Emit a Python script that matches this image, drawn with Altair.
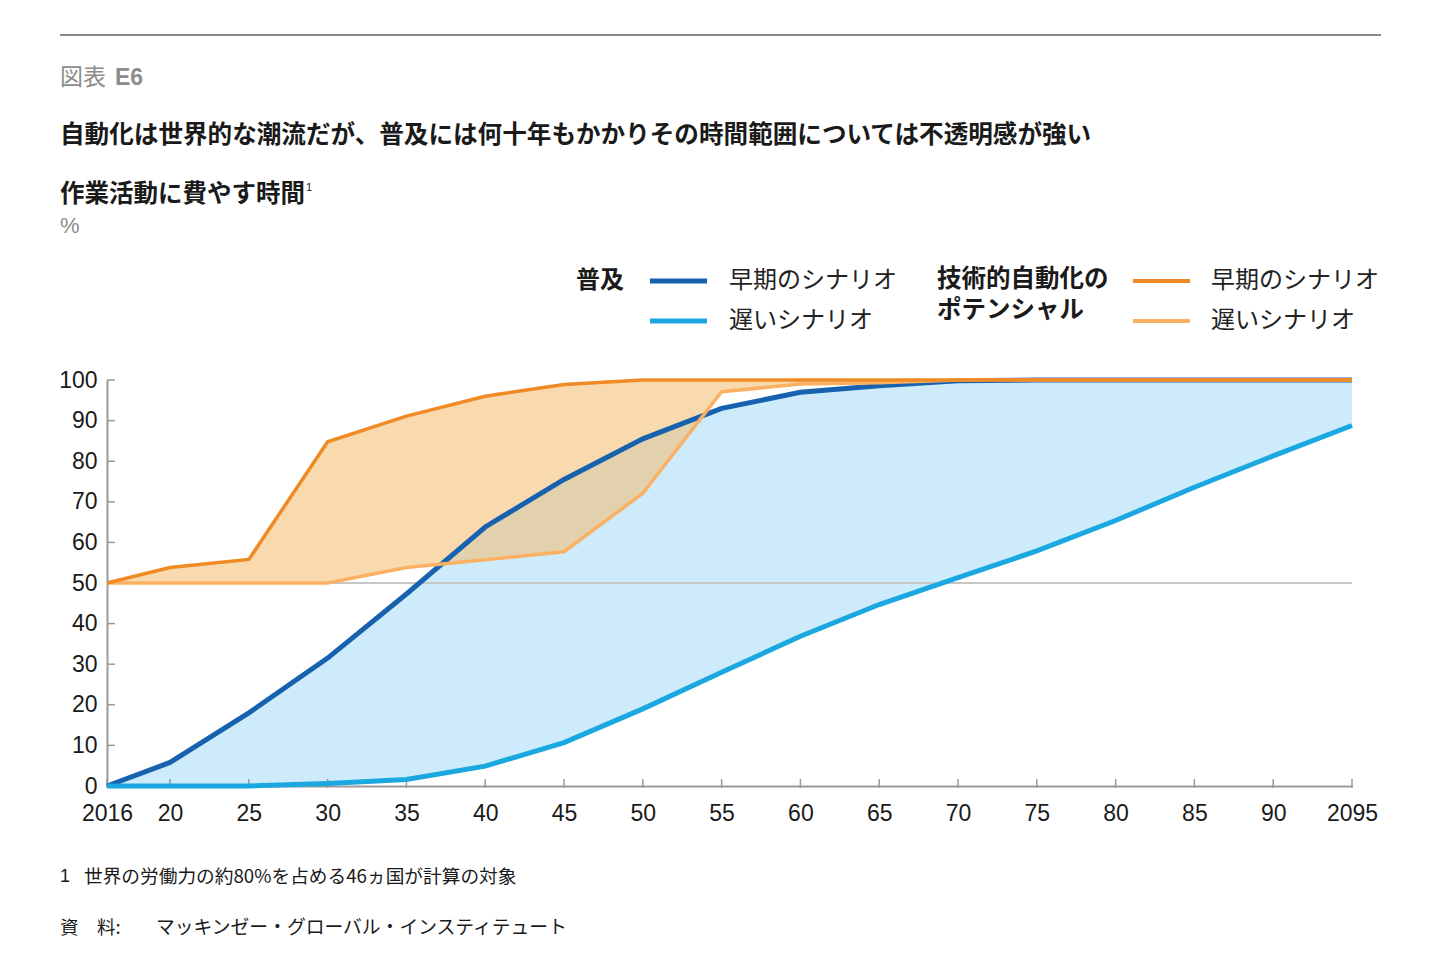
import altair as alt
import pandas as pd

# ---------------- data ----------------
years = [2016, 2020, 2025, 2030, 2035, 2040, 2045, 2050, 2055, 2060,
         2065, 2070, 2075, 2080, 2085, 2090, 2095]
adoption_early = [0, 5.8, 18, 31.5, 47.3, 63.8, 75.5, 85.5, 93, 97,
                  98.6, 99.8, 100, 100, 100, 100, 100]
adoption_late = [0, 0, 0, 0.6, 1.6, 4.9, 10.7, 19, 28, 36.9,
                 44.7, 51.3, 57.9, 65.4, 73.6, 81.3, 88.8]
potential_early = [50, 53.8, 55.8, 84.8, 91.1, 96, 98.9, 100, 100, 100,
                   100, 100, 100, 100, 100, 100, 100]
potential_late = [50, 50, 50, 50, 53.8, 55.7, 57.7, 72.1, 97.1, 99,
                  99.3, 100, 100, 100, 100, 100, 100]

x_tick_values = years
x_tick_labels = ["2016", "20", "25", "30", "35", "40", "45", "50", "55", "60",
                 "65", "70", "75", "80", "85", "90", "2095"]
y_tick_values = [0, 10, 20, 30, 40, 50, 60, 70, 80, 90, 100]
reference_value = [50]

df = pd.DataFrame({
    "year": years,
    "adoption_early": adoption_early,
    "adoption_late": adoption_late,
    "potential_early": potential_early,
    "potential_late": potential_late,
})

# ---------------- style ----------------
W, H = 1245, 406
JP = "Noto Sans CJK JP"
NUM = "Liberation Sans"
DARK_BLUE = "#1762ae"
LIGHT_BLUE = "#1ba8e0"
DARK_ORANGE = "#f08a24"
LIGHT_ORANGE = "#fbb163"
BLUE_FILL = "#cdebfa"
ORANGE_FILL = "#f4bb6e"
AXIS_GRAY = "#9a9a9a"
TEXT = "#1a1a1a"
GRAY_TEXT = "#8c8c8c"

label_expr = "{}[indexof({}, datum.value)]".format(
    "[" + ",".join("'" + s + "'" for s in x_tick_labels) + "]",
    "[" + ",".join(str(v) for v in x_tick_values) + "]",
)

x_scale = alt.Scale(domain=[2016, 2095], nice=False, zero=False)
y_scale = alt.Scale(domain=[0, 100], nice=False)

x_axis = alt.Axis(values=x_tick_values, labelExpr=label_expr, title=None,
                  grid=False, ticks=False, tickSize=0, labelPadding=16,
                  labelFont=NUM, labelFontSize=23, labelColor=TEXT,
                  domainColor=AXIS_GRAY, domainWidth=2, labelFlush=False)
y_axis = alt.Axis(values=y_tick_values, title=None, grid=False, ticks=False,
                  tickSize=0, labelPadding=10, labelFont=NUM, labelFontSize=23,
                  labelColor=TEXT, domainColor=AXIS_GRAY, domainWidth=2)

X = alt.X("year:Q", scale=x_scale, axis=x_axis)


def Y(field):
    return alt.Y(field + ":Q", scale=y_scale, axis=y_axis)


base = alt.Chart(df)

blue_area = base.mark_area(color=BLUE_FILL, opacity=1).encode(
    x=X, y=Y("adoption_early"), y2="adoption_late:Q")
orange_area = base.mark_area(color=ORANGE_FILL, opacity=0.56).encode(
    x=X, y=Y("potential_early"), y2="potential_late:Q")

ref_rule = alt.Chart(pd.DataFrame({"v": reference_value})).mark_rule(
    color="#c6c6c6", strokeWidth=2).encode(y=Y("v"))

x_ticks = alt.Chart(pd.DataFrame({"year": x_tick_values})).mark_rule(
    color=AXIS_GRAY, strokeWidth=1.5).encode(
    x=X, y=alt.value(H - 7), y2=alt.value(H + 2))
y_ticks = alt.Chart(pd.DataFrame({"v": y_tick_values})).mark_rule(
    color=AXIS_GRAY, strokeWidth=1.5).encode(
    y=Y("v"), x=alt.value(0), x2=alt.value(8))


def line(field, color, width):
    return base.mark_line(color=color, strokeWidth=width,
                          strokeJoin="miter").encode(x=X, y=Y(field))


lines = [
    line("adoption_early", DARK_BLUE, 5),
    line("adoption_late", LIGHT_BLUE, 5),
    line("potential_late", LIGHT_ORANGE, 3.5),
    line("potential_early", DARK_ORANGE, 3.5),
]

one = alt.Data(values=[{}])


def txt(s, x, y, size, color=TEXT, weight="normal", font=JP, baseline="middle"):
    return alt.Chart(one).mark_text(
        align="left", baseline=baseline, font=font, fontSize=size,
        fontWeight=weight, color=color).encode(
        x=alt.value(x), y=alt.value(y), text=alt.value(s))


def seg(x1, x2, y, color, width):
    return alt.Chart(one).mark_rule(color=color, strokeWidth=width).encode(
        x=alt.value(x1), x2=alt.value(x2), y=alt.value(y))


ox, oy = 107, 380  # plot origin in page pixels (for annotation layout)

annotations = [
    seg(60 - ox, 1381 - ox, 35 - oy, "#8a8a8a", 2),
    txt("図表", 60 - ox, 78 - oy, 23, GRAY_TEXT),
    txt("E6", 115 - ox, 78 - oy, 23, GRAY_TEXT, "bold", NUM),
    txt("自動化は世界的な潮流だが、普及には何十年もかかりその時間範囲については不透明感が強い",
        60 - ox, 136 - oy, 24.6, TEXT, "bold"),
    txt("作業活動に費やす時間", 60 - ox, 195 - oy, 24.5, TEXT, "bold"),
    txt("1", 306 - ox, 188 - oy, 11, TEXT, "normal", NUM),
    txt("%", 60 - ox, 226 - oy, 22, GRAY_TEXT, "normal", NUM),
    # legend
    txt("普及", 576 - ox, 281 - oy, 24, TEXT, "bold"),
    seg(650 - ox, 707 - ox, 281 - oy, DARK_BLUE, 5),
    txt("早期のシナリオ", 729 - ox, 281 - oy, 24, "#222222"),
    seg(650 - ox, 707 - ox, 321 - oy, LIGHT_BLUE, 5),
    txt("遅いシナリオ", 729 - ox, 321 - oy, 24, "#222222"),
    txt("技術的自動化の", 937 - ox, 280 - oy, 24.5, TEXT, "bold"),
    txt("ポテンシャル", 937 - ox, 311 - oy, 24.5, TEXT, "bold"),
    seg(1133 - ox, 1190 - ox, 281 - oy, DARK_ORANGE, 4),
    txt("早期のシナリオ", 1211 - ox, 281 - oy, 24, "#222222"),
    seg(1133 - ox, 1190 - ox, 321 - oy, LIGHT_ORANGE, 4),
    txt("遅いシナリオ", 1211 - ox, 321 - oy, 24, "#222222"),
    # footnotes
    txt("1", 60 - ox, 877 - oy, 18, TEXT, "normal", NUM),
    txt("世界の労働力の約80%を占める46ヵ国が計算の対象", 84 - ox, 877 - oy, 18.7, TEXT),
    txt("資　料:", 60 - ox, 928 - oy, 18.5, TEXT),
    txt("マッキンゼー・グローバル・インスティテュート", 156 - ox, 928 - oy, 18.8, TEXT),
]

chart = alt.layer(
    blue_area, orange_area, ref_rule, x_ticks, y_ticks, *lines, *annotations
).properties(
    width=W, height=H,
    autosize=alt.AutoSizeParams(type="none"),
    padding={"left": ox - 8, "top": oy - 8, "right": 50, "bottom": 160},
    background="white",
).configure_view(stroke=None)

chart.save("out.html", embed_options={"renderer": "svg", "actions": False})
